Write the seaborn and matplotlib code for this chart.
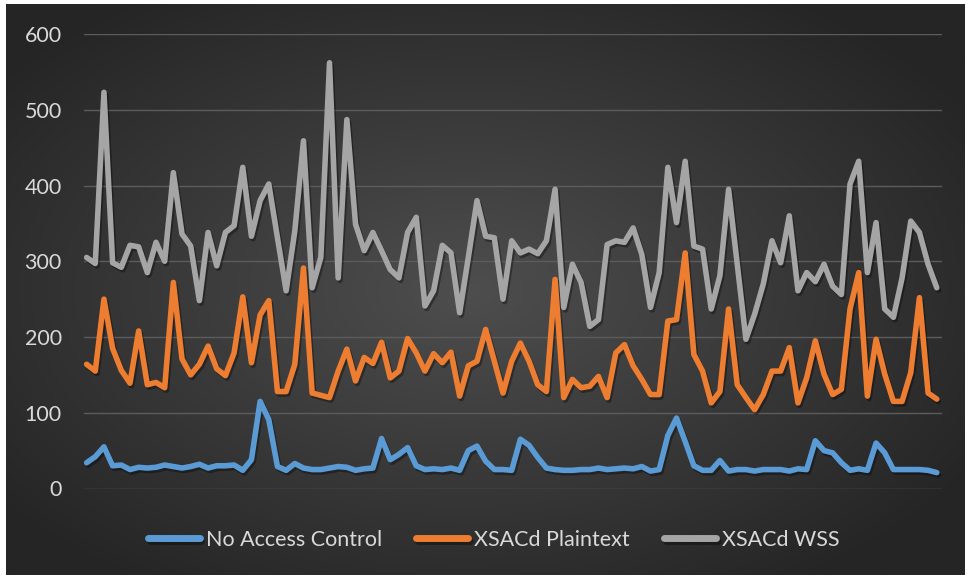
import numpy as np
import pandas as pd
import matplotlib
matplotlib.use("Agg")
import matplotlib.pyplot as plt
import matplotlib.patheffects as pe
import seaborn as sns

# ---------------------------------------------------------------------------
# Data (99 samples per series)
# ---------------------------------------------------------------------------
series_names = ["No Access Control", "XSACd Plaintext", "XSACd WSS"]

no_access = [34, 42, 55, 30, 31, 25, 28, 27, 28, 31,
             29, 27, 29, 32, 27, 30, 30, 31, 24, 38,
             115, 91, 29, 24, 33, 27, 25, 25, 27, 29,
             28, 24, 26, 27, 66, 38, 45, 54, 30, 25,
             26, 25, 27, 24, 50, 56, 36, 25, 25, 24,
             65, 57, 41, 27, 25, 24, 24, 25, 25, 27,
             25, 26, 27, 26, 29, 23, 25, 70, 93, 62,
             30, 24, 24, 37, 23, 25, 25, 23, 25, 25,
             25, 23, 26, 25, 63, 50, 47, 34, 24, 26,
             24, 60, 47, 25, 25, 25, 25, 24, 21]

plaintext = [164, 155, 250, 185, 156, 139, 208, 137, 140, 133,
             272, 171, 150, 164, 188, 158, 149, 179, 253, 166,
             229, 248, 128, 128, 164, 291, 126, 123, 120, 155,
             184, 142, 173, 165, 193, 146, 155, 198, 179, 155,
             178, 166, 180, 122, 162, 168, 210, 168, 126, 168,
             192, 168, 137, 128, 276, 120, 144, 133, 135, 148,
             120, 179, 190, 162, 144, 124, 124, 221, 223, 311,
             177, 155, 113, 128, 237, 137, 120, 104, 124, 155,
             155, 186, 113, 146, 195, 151, 124, 131, 237, 285,
             122, 197, 151, 115, 115, 153, 252, 126, 118]

wss = [305, 297, 523, 298, 292, 321, 319, 285, 325, 300,
       417, 336, 320, 248, 338, 294, 338, 347, 424, 333,
       380, 402, 331, 261, 340, 459, 265, 305, 562, 278,
       487, 349, 314, 338, 314, 289, 278, 338, 358, 241,
       261, 321, 311, 232, 305, 380, 333, 331, 250, 327,
       311, 316, 310, 327, 395, 239, 296, 272, 214, 223,
       322, 327, 325, 344, 309, 239, 285, 424, 351, 432,
       320, 316, 237, 281, 395, 296, 197, 230, 270, 327,
       298, 360, 261, 285, 273, 296, 267, 256, 402, 432,
       285, 351, 237, 226, 278, 353, 338, 296, 265]

y_ticks = [0, 100, 200, 300, 400, 500, 600]
colors = ["#5B9BD5", "#ED7D31", "#A5A5A5"]

n = len(wss)
df = pd.DataFrame({
    "Sample": np.tile(np.arange(n), 3),
    "Value": no_access + plaintext + wss,
    "Series": np.repeat(series_names, n),
})

sns.set_theme(style="dark")
plt.rcParams["font.family"] = ["Lato", "DejaVu Sans"]

W, H = 972, 578
fig = plt.figure(figsize=(W / 100, H / 100), dpi=100, facecolor="white")

# dark radial-gradient chart background
bg = fig.add_axes([6 / W, 3 / H, 958 / W, 571 / H])
gh, gw = 300, 500
yy, xx = np.mgrid[0:gh, 0:gw]
r = np.sqrt(((xx - 0.48 * gw) / (0.62 * gw)) ** 2 + ((yy - 0.5 * gh) / (0.62 * gh)) ** 2)
t = np.clip(r, 0, 1)[..., None]
inner = np.array([0x4e, 0x4e, 0x4e]) / 255
outer = np.array([0x25, 0x25, 0x25]) / 255
bg.imshow(inner * (1 - t) + outer * t, aspect="auto")
bg.axis("off")

# ---------------------------------------------------------------------------
# Main plot
# ---------------------------------------------------------------------------
ax = fig.add_axes([84 / W, 1 - 488.5 / H, 858 / W, 454.5 / H])
ax.patch.set_alpha(0)
sns.lineplot(data=df, x="Sample", y="Value", hue="Series", palette=colors,
             estimator=None, linewidth=4.0, ax=ax)

for line in ax.lines:
    line.set_solid_joinstyle("round")
    line.set_solid_capstyle("round")
    line.set_path_effects([pe.SimpleLineShadow(offset=(1.2, -1.8), shadow_color="black", alpha=0.35),
                           pe.Normal()])

ax.set_xlim(-0.3, n - 1 + 0.6)
ax.set_ylim(0, 600)
ax.set_yticks(y_ticks)
ax.set_xticks([])
ax.grid(axis="y", color="#5c5c5c", linewidth=1.0)
ax.grid(axis="x", visible=False)
for s in ax.spines.values():
    s.set_visible(False)
ax.tick_params(axis="y", colors="#d9d9d9", labelsize=15.5, pad=16, length=0)
ax.set_xlabel("")
ax.set_ylabel("")

ax.legend_.remove()
handles, labels = ax.get_legend_handles_labels()
leg = fig.legend(handles, labels, loc="center", bbox_to_anchor=(0.508, 1 - 540 / H),
                 ncol=3, frameon=False, fontsize=15.5, handlelength=2.4,
                 handletextpad=0.28, columnspacing=1.6)
for h in leg.get_lines():
    h.set_linewidth(5)
for txt in leg.get_texts():
    txt.set_color("#d9d9d9")

fig.savefig("out.png", dpi=100, facecolor="white")
